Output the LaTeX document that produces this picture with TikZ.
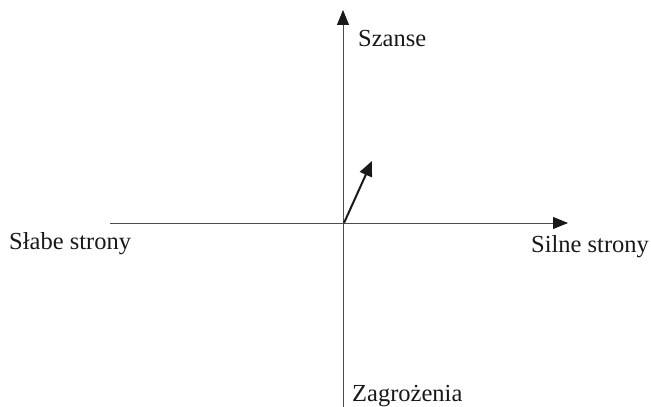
\documentclass[tikz,border=0pt]{standalone}
\usepackage{fontspec}
\setmainfont{Liberation Serif}
\usetikzlibrary{arrows.meta}
\begin{document}
\begin{tikzpicture}[x=1pt,y=1pt,
  axis/.style={line width=0.9pt,draw=black!70,-{Triangle[length=15pt,width=12pt,color=black!90]}},
  vec/.style={line width=2pt,draw=black!90,-{Triangle[length=15pt,width=13pt]}},
  lbl/.style={inner sep=0pt,anchor=base west,text=black!90,font=\fontsize{24.5}{28}\selectfont}]
\useasboundingbox (0,0) rectangle (651,407);
% axes (y = 407 - pixel y)
\coordinate (hl) at (110,184);
\coordinate (hr) at (568,184);
\coordinate (vb) at (343,-2);
\coordinate (vt) at (343,397);
\coordinate (o) at (344,184);
\coordinate (v) at (372,246);
\draw[axis] (hl) -- (hr);
\draw[axis] (vb) -- (vt);
\draw[vec] (o) -- (v);
\node[lbl] (szanse) at (358,360) {Szanse};
\node[lbl] (silne) at (531,154) {Silne strony};
\node[lbl] (slabe) at (9,157) {Słabe strony};
\node[lbl] (zagr) at (352,5.5) {Zagrożenia};
\end{tikzpicture}
\end{document}
